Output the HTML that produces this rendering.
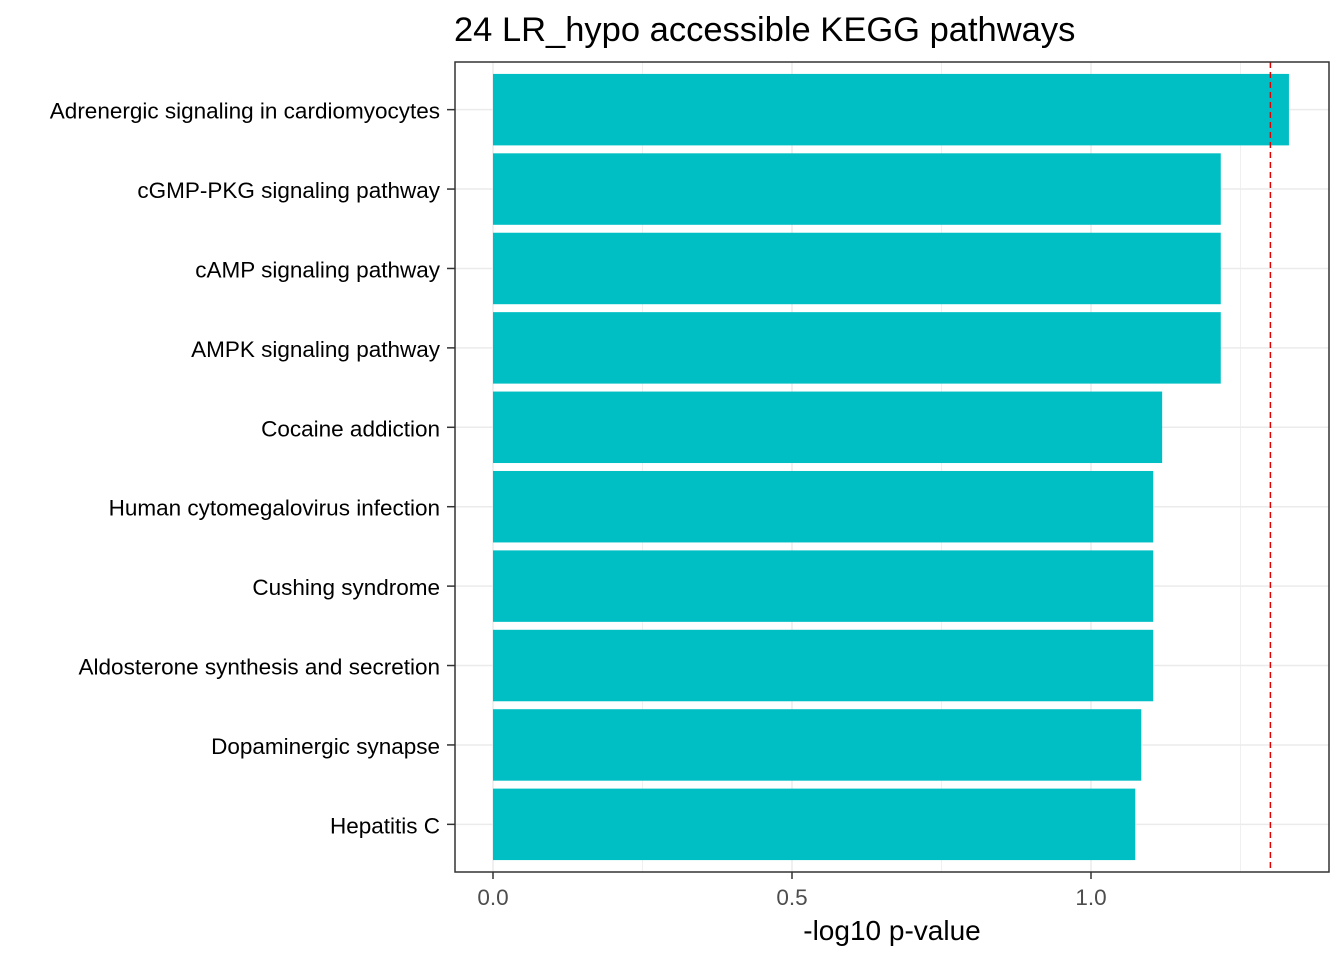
<!DOCTYPE html>
<html><head><meta charset="utf-8"><style>
body{margin:0;background:#fff;}
svg text{font-family:"Liberation Sans",Arial,sans-serif;}
</style></head><body>
<svg id="chart" width="1344" height="960" xmlns="http://www.w3.org/2000/svg">
<rect width="1344" height="960" fill="#fff"/>
<text x="454" y="41" font-size="34.5" fill="#000">24 LR_hypo accessible KEGG pathways</text>
<g id="grid"></g><g id="bars"></g><g id="axes"></g>
</svg>
<script>
const categories=["Adrenergic signaling in cardiomyocytes","cGMP-PKG signaling pathway","cAMP signaling pathway","AMPK signaling pathway","Cocaine addiction","Human cytomegalovirus infection","Cushing syndrome","Aldosterone synthesis and secretion","Dopaminergic synapse","Hepatitis C"];
const values=[1.331,1.217,1.217,1.217,1.119,1.104,1.104,1.104,1.084,1.074];
const xTicks=[0,0.5,1.0];
const xTickLabels=["0.0","0.5","1.0"];
const minorTicks=[0.25,0.75,1.25];
const threshold=1.3;

const NS="http://www.w3.org/2000/svg";
const L=455,R=1329,T=62,B=872;
const x=v=>493+v*598;
const band=(B-T)/10.2;
const y=i=>T+band*(0.6+i);
function mk(p,tag,a){const e=document.createElementNS(NS,tag);for(const k in a)e.setAttribute(k,a[k]);p.appendChild(e);return e;}
const grid=document.getElementById('grid'),bars=document.getElementById('bars'),axes=document.getElementById('axes');
mk(grid,'rect',{x:L,y:T,width:R-L,height:B-T,fill:'#fff'});
minorTicks.forEach(v=>{const l=mk(grid,'line',{x1:x(v),x2:x(v),y1:T,y2:B,stroke:'#f0f0f0','stroke-width':1});

});
xTicks.forEach(v=>{const l=mk(grid,'line',{x1:x(v),x2:x(v),y1:T,y2:B,stroke:'#ebebeb','stroke-width':1.5});

});
categories.forEach((c,i)=>{const l=mk(grid,'line',{x1:L,x2:R,y1:y(i),y2:y(i),stroke:'#ebebeb','stroke-width':1.5});

});
categories.forEach((c,i)=>{
const r=mk(bars,'rect',{x:x(0),y:y(i)-band*0.45,width:x(values[i])-x(0),height:band*0.9,fill:'#00BFC4'});


mk(axes,'line',{x1:L-8,x2:L,y1:y(i),y2:y(i),stroke:'#333','stroke-width':1.5});
const t=mk(axes,'text',{x:L-15,y:y(i)+9,'text-anchor':'end','font-size':22.5,fill:'#000'});t.textContent=c;


});
const d=mk(bars,'line',{x1:x(threshold),x2:x(threshold),y1:T,y2:B,stroke:'#e00000','stroke-width':1.5,'stroke-dasharray':'6,4'});


const f=mk(axes,'rect',{x:L,y:T,width:R-L,height:B-T,fill:'none',stroke:'#333','stroke-width':1.5});


xTicks.forEach((v,i)=>{mk(axes,'line',{x1:x(v),x2:x(v),y1:B,y2:B+7,stroke:'#333','stroke-width':1.5});
const t=mk(axes,'text',{x:x(v),y:B+33,'text-anchor':'middle','font-size':22.5,fill:'#4d4d4d'});t.textContent=xTickLabels[i];

});
const xt=mk(axes,'text',{x:(L+R)/2,y:940,'text-anchor':'middle','font-size':28,fill:'#000'});xt.textContent='-log10 p-value';


</script>
</body></html>
